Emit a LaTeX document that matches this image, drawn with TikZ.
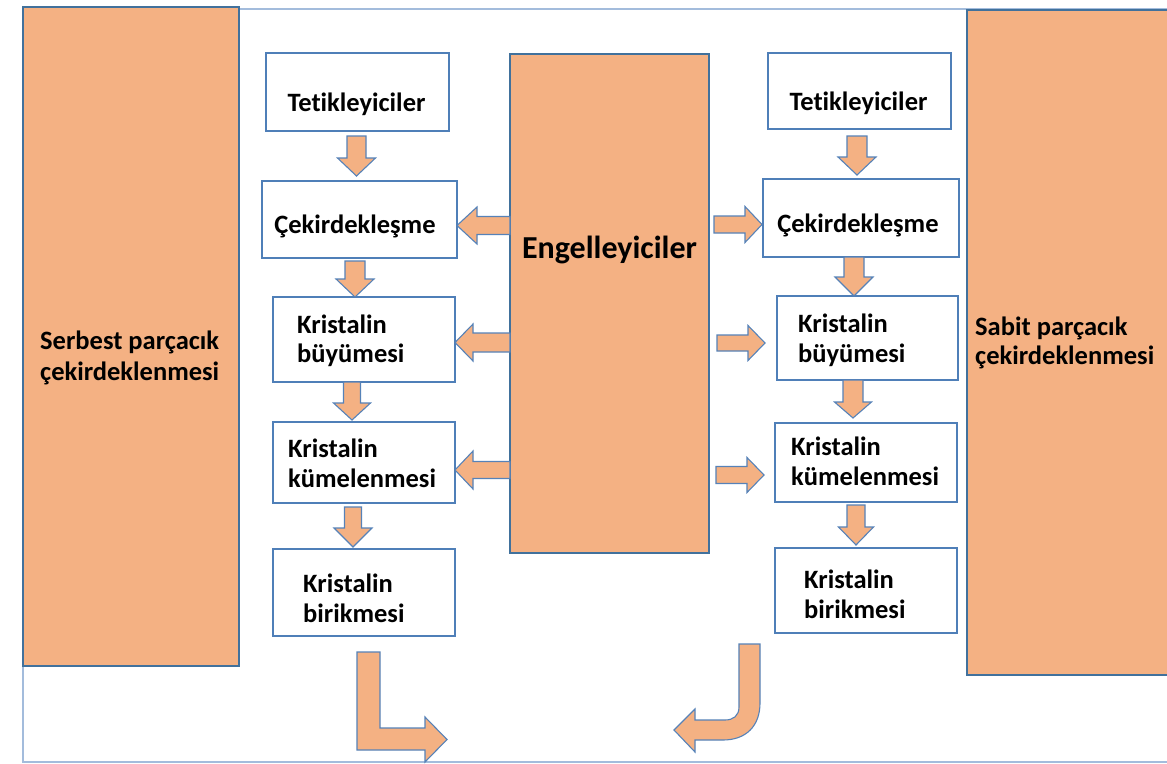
\documentclass[tikz,border=0pt]{standalone}
\usepackage{fontspec}
\setmainfont{Carlito}[Ligatures=NoCommon]
\definecolor{org}{HTML}{F4B183}
\definecolor{bord}{HTML}{41719C}
\definecolor{boxb}{HTML}{4F7FB8}
\definecolor{arrb}{HTML}{5682B8}
\definecolor{frm}{HTML}{A3BCDC}
\newcommand\mybox[6]{\node[#2, minimum width={(#5-#3)*1pt}, minimum height={(#6-#4)*1pt}] (#1) at ({(#3+#5)/2},{(#4+#6)/2}) {};}
\newcommand\darr[6]{\draw[blk] (#1-#5,#2) -- (#1+#5,#2) -- (#1+#5,#3) -- (#1+#6,#3) -- (#1,#4) -- (#1-#6,#3) -- (#1-#5,#3) -- cycle;}
\newcommand\harr[6]{\draw[blk] (#2,#1-#5) -- (#3,#1-#5) -- (#3,#1-#6) -- (#4,#1) -- (#3,#1+#6) -- (#3,#1+#5) -- (#2,#1+#5) -- cycle;}
\begin{document}
\begin{tikzpicture}[x=1pt,y=-1pt,
  wbox/.style={draw=boxb, line width=1.3pt, fill=white, inner sep=0pt, outer sep=0pt},
  obox/.style={draw=bord, line width=2pt, fill=org, inner sep=0pt, outer sep=0pt},
  blk/.style={draw=arrb, line width=1.1pt, fill=org, line join=miter},
  lbl/.style={font=\fontsize{26.5}{30}\selectfont\bfseries, inner sep=0pt, anchor=base west},
  clbl/.style={lbl, anchor=base},
  big/.style={font=\fontsize{32}{38}\selectfont\bfseries, inner sep=0pt, anchor=base}]
\useasboundingbox (0,0) rectangle (1167,763);
\fill[white] (0,0) rectangle (1167,763);
% outer frame
\mybox{frame}{draw=frm, line width=1.5pt, inner sep=0pt, outer sep=0pt}{23}{9}{1185}{762}
% side boxes
\mybox{serbest}{obox}{23}{7}{239}{666}
\mybox{sabit}{obox}{967}{10}{1185}{675}
% central box
\mybox{engel}{obox}{510}{54}{709}{553}
% left column
\mybox{tetL}{wbox}{266}{53}{449}{131}
\mybox{cekL}{wbox}{262}{181}{457}{258}
\mybox{buyL}{wbox}{273}{297}{455}{382}
\mybox{kumL}{wbox}{273}{422}{455}{503}
\mybox{birL}{wbox}{273}{549}{455}{636}
% right column
\mybox{tetR}{wbox}{768}{53}{951}{129}
\mybox{cekR}{wbox}{763}{179}{959}{257}
\mybox{buyR}{wbox}{777}{296}{958}{380}
\mybox{kumR}{wbox}{775}{423}{957}{502}
\mybox{birR}{wbox}{775}{548}{957}{633}
% down arrows left
\darr{356.5}{136}{158}{176}{9.5}{19}
\darr{355}{261}{279}{297}{10}{19}
\darr{352}{382}{403}{420}{8.5}{18.5}
\darr{353}{507}{528}{547}{8.5}{19}
% down arrows right
\darr{857}{136}{157}{175}{10}{19}
\darr{854}{257}{277}{296}{10}{19}
\darr{853}{380}{402}{418}{10}{18.5}
\darr{856}{505}{527}{545}{9}{17.5}
% left arrows
\harr{225.5}{510}{477}{457}{9}{18.5}
\harr{342.5}{510}{473}{455}{9.5}{18.5}
\harr{470}{510}{473}{455}{8.5}{19}
% right arrows
\harr{224.5}{714}{745}{762}{8.5}{18}
\harr{343}{717}{748}{765}{8}{17.5}
\harr{475}{716}{747}{764}{8.5}{17.5}
% bent arrow left
\draw[blk] (357,652) -- (380,652) -- (380,728) -- (425,728) -- (425,717) -- (447,739.5) -- (425,762) -- (425,750) -- (357,750) -- cycle;
% U-turn arrow right
\draw[blk] (739,644) -- (760,644) -- (760,703) .. controls (760,726) and (746,740) .. (723,740) -- (695,740) -- (695,752) -- (674,730) -- (695,709) -- (695,720) -- (725,720) .. controls (733,720) and (739,716) .. (739,707) -- cycle;
% texts
\node[lbl] (serb1) at (40,349) {Serbest parçacık};
\node[lbl] (serb2) at (40,380) {çekirdeklenmesi};
\node[lbl] (sab1) at (975,335) {Sabit parçacık};
\node[lbl] (sab2) at (975,364) {çekirdeklenmesi};
\node[big] (engtxt) at (609.5,258) {Engelleyiciler};
\node[clbl] (tetLt) at (356.5,111) {Tetikleyiciler};
\node[clbl] (cekLt) at (355,233) {Çekirdekleşme};
\node[clbl] (tetRt) at (858.5,110) {Tetikleyiciler};
\node[clbl] (cekRt) at (858,232) {Çekirdekleşme};
\node[lbl] (buyL1) at (297,333) {Kristalin};
\node[lbl] (buyL2) at (297,362) {büyümesi};
\node[lbl] (kumL1) at (288,457) {Kristalin};
\node[lbl] (kumL2) at (288,487) {kümelenmesi};
\node[lbl] (birL1) at (303,592) {Kristalin};
\node[lbl] (birL2) at (303,622) {birikmesi};
\node[lbl] (buyR1) at (798,332) {Kristalin};
\node[lbl] (buyR2) at (798,362) {büyümesi};
\node[lbl] (kumR1) at (791,455) {Kristalin};
\node[lbl] (kumR2) at (791,485) {kümelenmesi};
\node[lbl] (birR1) at (804,588) {Kristalin};
\node[lbl] (birR2) at (804,618) {birikmesi};
\end{tikzpicture}
\end{document}
